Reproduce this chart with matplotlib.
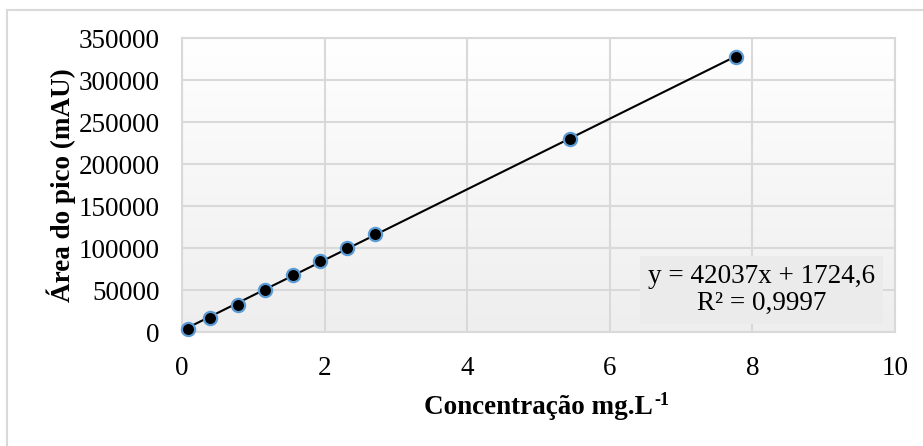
import matplotlib
matplotlib.use("Agg")
import matplotlib.pyplot as plt
import numpy as np
from matplotlib.lines import Line2D

# dados da curva de calibração
concentracao = [0.08, 0.39, 0.78, 1.16, 1.55, 1.94, 2.32, 2.71, 5.44, 7.77]
area_pico = [3500, 16500, 32500, 50000, 67500, 85000, 100500, 116500, 229500, 327500]
coef_angular = 42037
coef_linear = 1724.6
r2_texto = "0,9997"
x_ticks = [0, 2, 4, 6, 8, 10]
y_ticks = [0, 50000, 100000, 150000, 200000, 250000, 300000, 350000]

plt.rcParams['font.family'] = ['Liberation Serif', 'DejaVu Serif']

fig = plt.figure(figsize=(9.23, 4.46), dpi=100)
ax = fig.add_axes([182 / 923, 114 / 446, 713 / 923, 294 / 446])

# fundo com gradiente (cinza embaixo, branco em cima)
grad = np.linspace(0, 1, 256).reshape(-1, 1)
ax.imshow(grad, extent=[0, 1, 0, 1], transform=ax.transAxes, aspect='auto',
          cmap=matplotlib.colors.LinearSegmentedColormap.from_list('g', ['#eeeeee', '#ffffff']),
          origin='lower', zorder=0)

ax.set_xlim(0, 10)
ax.set_ylim(0, 350000)
ax.set_xticks(x_ticks)
ax.set_yticks(y_ticks)
ax.grid(True, color='#d9d9d9', linewidth=1.5, zorder=1)
ax.set_axisbelow(True)
for s in ax.spines.values():
    s.set_color('#d9d9d9')
    s.set_linewidth(1.5)
ax.tick_params(length=0, labelsize=19.5)
ax.tick_params(axis='y', pad=16)
ax.tick_params(axis='x', pad=17)

# linha de tendência
xs = np.array([min(concentracao), max(concentracao)])
ax.plot(xs, coef_angular * xs + coef_linear, color='black', linewidth=1.5, zorder=3)
ax.plot(concentracao, area_pico, 'o', color='black', markersize=9.5,
        markeredgecolor='#5b9bd5', markeredgewidth=1.6, zorder=4, clip_on=False)

ax.text(0.813, 0.143, f"y = {coef_angular}x + {str(coef_linear).replace('.', ',')}\nR² = {r2_texto}",
        transform=ax.transAxes, ha='center', va='center', fontsize=19.5, linespacing=1.1,
        bbox=dict(boxstyle='square,pad=0.3', facecolor='#ebebeb', edgecolor='none'), zorder=5)

xl = ax.set_xlabel('Concentração mg.L', fontsize=19.5, fontweight='bold', labelpad=10)
ax.annotate('-1', xy=(1.0, 1.0), xycoords=xl, xytext=(1, 2), textcoords='offset points',
            ha='left', va='top', fontsize=13, fontweight='bold')
ax.set_ylabel('Área do pico (mAU)', fontsize=19.5, fontweight='bold', labelpad=2)

# moldura externa
fig.add_artist(Line2D([7 / 923, 7 / 923], [0, 1 - 10 / 446], color='#d9d9d9', linewidth=1.5))
fig.add_artist(Line2D([7 / 923, 1], [1 - 10 / 446, 1 - 10 / 446], color='#d9d9d9', linewidth=1.5))

fig.savefig('out.png', dpi=100)
